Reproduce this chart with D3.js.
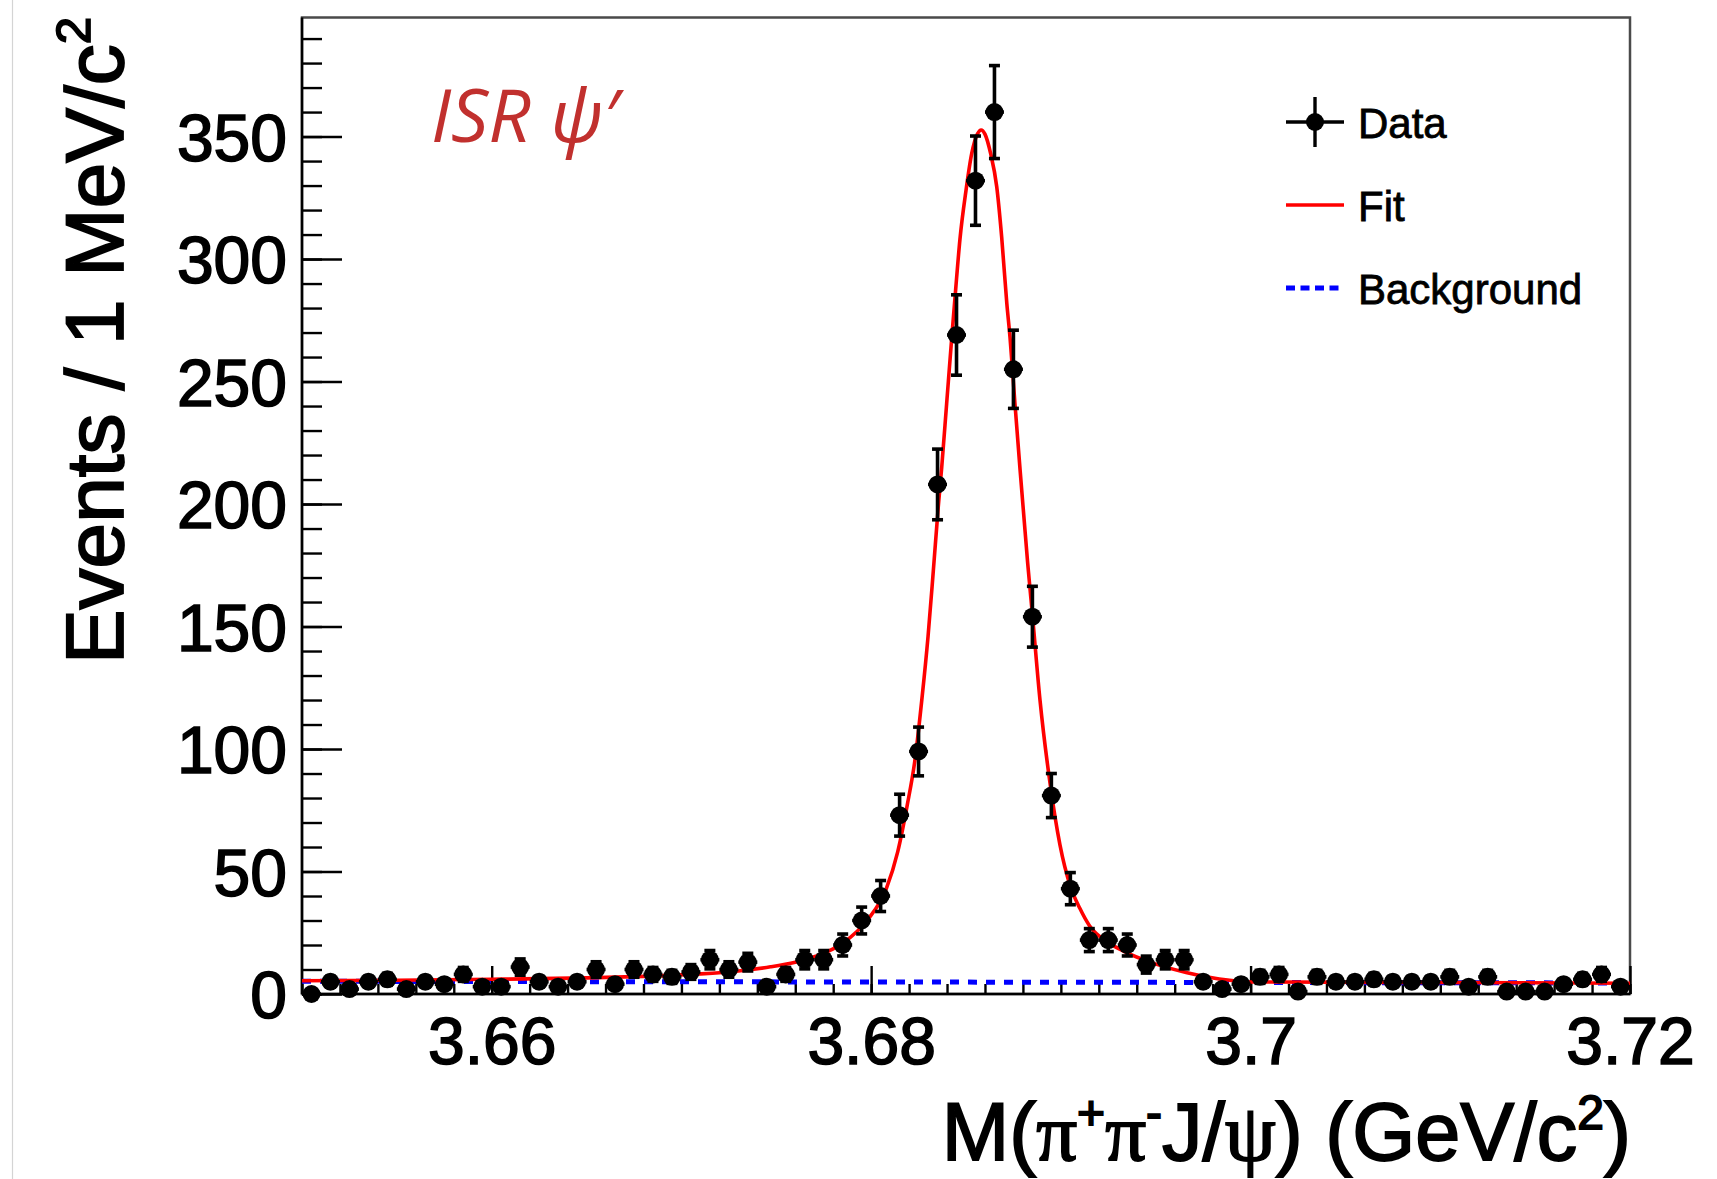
<!DOCTYPE html>
<html>
<head>
<meta charset="utf-8">
<script src="https://cdn.jsdelivr.net/npm/d3@7"></script>
<style>
  html, body { margin: 0; padding: 0; background: #fff; }
  svg { display: block; }
</style>
</head>
<body>
<svg id="chart" width="1717" height="1179"></svg>
<script>
// Histogram binning: 1 MeV bins from 3.650 to 3.720 GeV
const massRange = [3.65, 3.72];
const binWidth = 0.001;

// Events per bin
const counts = [
  0, 5, 2, 5, 6, 2, 5, 4, 8, 3,
  3, 11, 5, 3, 5, 10, 4, 10, 8, 7,
  9, 14, 10, 13, 3, 8, 14, 14, 20, 30,
  40, 73, 99, 208, 269, 332, 360, 255, 154, 81,
  43, 22, 22, 20, 12, 14, 14, 5, 2, 4,
  7, 8, 1, 7, 5, 5, 6, 5, 5, 5,
  7, 3, 7, 1, 1, 1, 4, 6, 8, 3
];

// Fitted total line shape (mass in GeV, events per bin)
const fitMass = [
  3.650, 3.655, 3.660, 3.665, 3.668, 3.671, 3.673, 3.6747, 3.6760, 3.6770,
  3.6785, 3.6798, 3.6808, 3.6814, 3.6819, 3.6823, 3.68267, 3.6830, 3.68328, 3.68354,
  3.68372, 3.68398, 3.68425, 3.68447, 3.68468, 3.6850, 3.6853, 3.6856, 3.6858, 3.6860,
  3.6863, 3.68662, 3.68688, 3.68715, 3.68732, 3.68758, 3.68785, 3.68806, 3.68825, 3.68851,
  3.68890, 3.68943, 3.68995, 3.6905, 3.6910, 3.6915, 3.6925, 3.6933, 3.6949, 3.6966,
  3.6989, 3.7000, 3.7100, 3.7200
];
const fitEvents = [
  5.4, 5.6, 6.0, 6.6, 7.2, 8.2, 9.4, 11.1, 13.0, 15.2,
  20.7, 30.2, 43, 58, 77, 95, 120, 146, 173, 199,
  215, 241, 268, 289, 308, 328, 343, 351, 352.7, 351,
  343, 329.5, 309, 282, 268, 241, 214, 194, 176, 154,
  120, 86, 61, 44, 35, 28, 21, 17.5, 12.5, 8.8,
  5.6, 4.9, 4.7, 4.4
];

// Fitted background
const bkgMass = [3.65, 3.72];
const bkgEvents = [5.2, 4.5];

// Axis ticks
const xTickValues = [3.66, 3.68, 3.70, 3.72];
const xTickLabels = ["3.66", "3.68", "3.7", "3.72"];
const yTickValues = [0, 50, 100, 150, 200, 250, 300, 350];
const yTickLabels = ["0", "50", "100", "150", "200", "250", "300", "350"];
const legendLabels = ["Data", "Fit", "Background"];

const svg = d3.select("#chart");
const W = 1717, H = 1179;
const frame = { left: 302, right: 1630, top: 17.5, bottom: 994 };
const yMax = 398.6;

const x = d3.scaleLinear().domain(massRange).range([frame.left, frame.right]);
const y = d3.scaleLinear().domain([0, yMax]).range([frame.bottom, frame.top]);

const sans = "'Liberation Sans', Arial, Helvetica, sans-serif";
const serif = "'Liberation Serif', 'Times New Roman', serif";

// thin page border on the left
svg.append("line")
  .attr("x1", 12.5).attr("x2", 12.5).attr("y1", 0).attr("y2", H)
  .attr("stroke", "#d4d4d4").attr("stroke-width", 1.2);

// Frame
svg.append("rect")
  .attr("x", frame.left).attr("y", frame.top)
  .attr("width", frame.right - frame.left).attr("height", frame.bottom - frame.top)
  .attr("fill", "none").attr("stroke", "#4a4a4a").attr("stroke-width", 2.5);

// ---- Axes ----
const xMinor = d3.range(0, 36).map(i => massRange[0] + i * 0.002);
const yMinor = d3.range(0, 40).map(i => i * 10);

const gx = svg.append("g").attr("transform", `translate(0,${frame.bottom})`);
gx.append("g")
  .call(d3.axisBottom(x).tickValues(xMinor).tickSize(-10).tickFormat(""))
  .call(g => g.select(".domain").remove());
gx.append("g")
  .call(d3.axisBottom(x).tickValues(xTickValues).tickSize(-28).tickPadding(23)
    .tickFormat((d, i) => xTickLabels[i]))
  .call(g => g.select(".domain").remove());
gx.selectAll("line").attr("stroke", "#000").attr("stroke-width", 2.4);
gx.selectAll("text").attr("font-family", sans).attr("font-size", 66).attr("fill", "#000")
  .attr("stroke", "#000").attr("stroke-width", 1.6);

const gy = svg.append("g").attr("transform", `translate(${frame.left},0)`);
gy.append("g")
  .call(d3.axisLeft(y).tickValues(yMinor).tickSize(-20).tickFormat(""))
  .call(g => g.select(".domain").remove());
gy.append("g")
  .call(d3.axisLeft(y).tickValues(yTickValues).tickSize(-40).tickPadding(15)
    .tickFormat((d, i) => yTickLabels[i]))
  .call(g => g.select(".domain").remove());
gy.selectAll("line").attr("stroke", "#000").attr("stroke-width", 2.4);
gy.selectAll("text").attr("font-family", sans).attr("font-size", 66).attr("fill", "#000")
  .attr("stroke", "#000").attr("stroke-width", 1.6)
  .attr("dy", "0.36em");

// axis lines on top of frame
svg.append("line").attr("x1", frame.left).attr("x2", frame.right)
  .attr("y1", frame.bottom).attr("y2", frame.bottom).attr("stroke", "#000").attr("stroke-width", 2.5);
svg.append("line").attr("x1", frame.left).attr("x2", frame.left)
  .attr("y1", frame.top).attr("y2", frame.bottom).attr("stroke", "#000").attr("stroke-width", 2.5);

// ---- Axis titles ----
const xt = svg.append("text")
  .attr("x", 1631).attr("y", 1160)
  .attr("text-anchor", "end")
  .attr("font-family", sans).attr("font-size", 81).attr("fill", "#000")
  .attr("stroke", "#000").attr("stroke-width", 1.8);
xt.append("tspan").text("M(");
xt.append("tspan").attr("font-family", serif).text("π");
xt.append("tspan").attr("font-size", 48).attr("dy", -31).text("+");
xt.append("tspan").attr("font-family", serif).attr("dy", 31).text("π");
xt.append("tspan").attr("font-size", 48).attr("dy", -31).text("-");
xt.append("tspan").attr("dy", 31).text("J/");
xt.append("tspan").attr("font-family", serif).text("ψ");
xt.append("tspan").text(") (GeV/c");
xt.append("tspan").attr("font-size", 48).attr("dy", -31).text("2");
xt.append("tspan").attr("dy", 31).text(")");

const yt = svg.append("text")
  .attr("transform", "translate(123,17) rotate(-90)")
  .attr("x", 0).attr("y", 0)
  .attr("text-anchor", "end")
  .attr("font-family", sans).attr("font-size", 82).attr("fill", "#000")
  .attr("stroke", "#000").attr("stroke-width", 1.8);
yt.append("tspan").text("Events / 1 MeV/c");
yt.append("tspan").attr("font-size", 49).attr("dy", -33).text("2");

// ---- Curves ----
const bkgLine = d3.line().x((d, i) => x(bkgMass[i])).y((d, i) => y(bkgEvents[i]));
svg.append("path")
  .attr("d", bkgLine(bkgMass))
  .attr("fill", "none").attr("stroke", "#0000ff").attr("stroke-width", 5)
  .attr("stroke-dasharray", "9,9");

const fitLine = d3.line().curve(d3.curveMonotoneX)
  .x((d, i) => x(fitMass[i])).y((d, i) => y(fitEvents[i]));
svg.append("path")
  .attr("d", fitLine(fitMass))
  .attr("fill", "none").attr("stroke", "#ff0000").attr("stroke-width", 3.6)
  .attr("stroke-linejoin", "round");

// ---- Data points with error bars ----
const bins = counts.map((n, i) => ({
  lo: massRange[0] + i * binWidth,
  hi: massRange[0] + (i + 1) * binWidth,
  c: massRange[0] + (i + 0.5) * binWidth,
  n: n,
  err: Math.sqrt(n)
}));

const gd = svg.append("g");
const cap = 5.5;
const barW = 3.6;
bins.forEach(b => {
  const cx = x(b.c), cy = y(b.n);
  gd.append("line").attr("x1", x(b.lo)).attr("x2", x(b.hi)).attr("y1", cy).attr("y2", cy)
    .attr("stroke", "#000").attr("stroke-width", barW);
  if (b.err > 0) {
    const y1 = y(b.n + b.err), y2 = y(b.n - b.err);
    gd.append("line").attr("x1", cx).attr("x2", cx).attr("y1", y1).attr("y2", y2)
      .attr("stroke", "#000").attr("stroke-width", barW);
    gd.append("line").attr("x1", cx - cap).attr("x2", cx + cap).attr("y1", y1).attr("y2", y1)
      .attr("stroke", "#000").attr("stroke-width", barW);
    gd.append("line").attr("x1", cx - cap).attr("x2", cx + cap).attr("y1", y2).attr("y2", y2)
      .attr("stroke", "#000").attr("stroke-width", barW);
  }
  gd.append("circle").attr("cx", cx).attr("cy", cy).attr("r", 9).attr("fill", "#000");
});

// ---- Legend ----
const lg = svg.append("g");
const symX0 = 1286, symX1 = 1344, symC = 1315, textX = 1358;
const rowY = [122, 205, 288];
// Data
lg.append("line").attr("x1", symX0).attr("x2", symX1).attr("y1", rowY[0]).attr("y2", rowY[0])
  .attr("stroke", "#000").attr("stroke-width", 3.4);
lg.append("line").attr("x1", symC).attr("x2", symC).attr("y1", rowY[0] - 25).attr("y2", rowY[0] + 25)
  .attr("stroke", "#000").attr("stroke-width", 3.4);
lg.append("circle").attr("cx", symC).attr("cy", rowY[0]).attr("r", 9).attr("fill", "#000");
// Fit
lg.append("line").attr("x1", symX0).attr("x2", symX1).attr("y1", rowY[1]).attr("y2", rowY[1])
  .attr("stroke", "#ff0000").attr("stroke-width", 3.6);
// Background
lg.append("line").attr("x1", symX0).attr("x2", symX1).attr("y1", rowY[2]).attr("y2", rowY[2])
  .attr("stroke", "#0000ff").attr("stroke-width", 5).attr("stroke-dasharray", "9,5.5");
lg.selectAll("text.lbl").data(legendLabels).enter().append("text")
  .attr("x", textX).attr("y", (d, i) => rowY[i] + 16)
  .attr("font-family", sans).attr("font-size", 42).attr("fill", "#000")
  .attr("stroke", "#000").attr("stroke-width", 0.8)
  .text(d => d);

// ---- Annotation ----
svg.append("text")
  .attr("x", 431).attr("y", 142)
  .attr("font-family", "'Open Sans', 'Noto Sans', sans-serif")
  .attr("font-style", "italic").attr("font-size", 74)
  .attr("fill", "#c1302e")
  .text("ISR ψ′");
</script>
</body>
</html>
